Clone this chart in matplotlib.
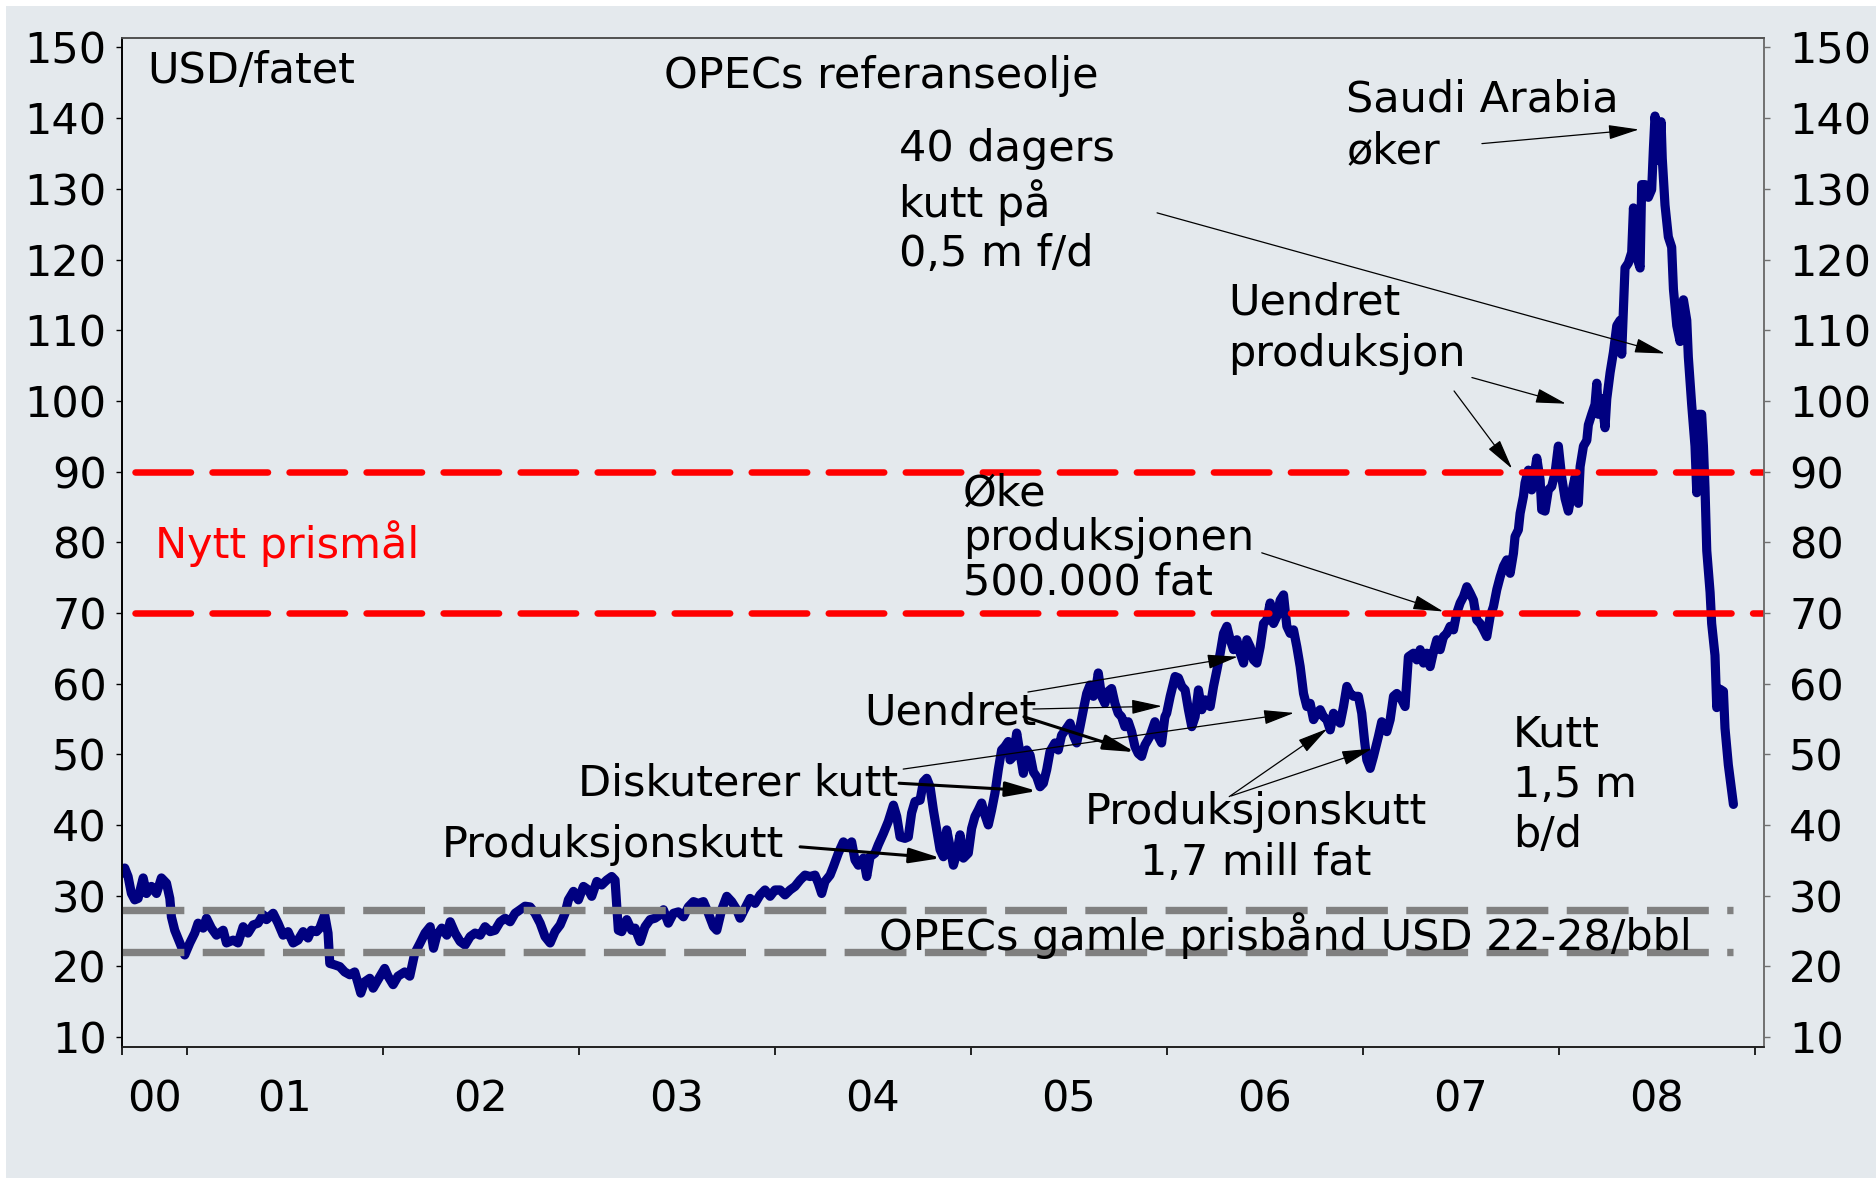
import matplotlib
matplotlib.use("Agg")
import matplotlib.pyplot as plt
from matplotlib.patches import Rectangle

# OPECs referanseolje (USD/fatet): decimal year, price
dates = [
    2000.672, 2000.684, 2000.701, 2000.718, 2000.735, 2000.752, 2000.778, 2000.795,
    2000.820, 2000.846, 2000.871, 2000.897, 2000.914, 2000.922, 2000.939, 2000.965,
    2000.990, 2001.016, 2001.041, 2001.058, 2001.084, 2001.101, 2001.126, 2001.152,
    2001.186, 2001.203, 2001.237, 2001.262, 2001.288, 2001.313, 2001.339, 2001.364,
    2001.390, 2001.407, 2001.441, 2001.466, 2001.492, 2001.517, 2001.543, 2001.568,
    2001.594, 2001.619, 2001.636, 2001.662, 2001.679, 2001.704, 2001.721, 2001.730,
    2001.755, 2001.781, 2001.806, 2001.832, 2001.857, 2001.874, 2001.888, 2001.908,
    2001.934, 2001.951, 2001.976, 2002.010, 2002.027, 2002.053, 2002.078, 2002.112,
    2002.138, 2002.163,
    2002.191, 2002.216, 2002.242, 2002.259, 2002.276, 2002.301, 2002.327, 2002.344,
    2002.369, 2002.395, 2002.420, 2002.446, 2002.471, 2002.497, 2002.522, 2002.548,
    2002.573, 2002.599, 2002.624, 2002.650, 2002.675, 2002.701, 2002.726, 2002.752,
    2002.777, 2002.803, 2002.828, 2002.854, 2002.879, 2002.905, 2002.930, 2002.947,
    2002.973, 2002.998, 2003.024, 2003.049, 2003.066, 2003.092, 2003.117, 2003.143,
    2003.168, 2003.185, 2003.194, 2003.202, 2003.219, 2003.245, 2003.270, 2003.287,
    2003.313, 2003.338, 2003.364, 2003.389, 2003.415, 2003.432, 2003.457, 2003.483,
    2003.508, 2003.534, 2003.559, 2003.585, 2003.610, 2003.636, 2003.661, 2003.687,
    2003.704, 2003.729, 2003.755, 2003.780, 2003.806, 2003.823, 2003.848, 2003.874,
    2003.899, 2003.925, 2003.950, 2003.976,
    2004.001, 2004.027, 2004.052, 2004.078, 2004.103, 2004.129, 2004.154, 2004.180,
    2004.205, 2004.222, 2004.239, 2004.256, 2004.282, 2004.299, 2004.324, 2004.350,
    2004.375, 2004.392, 2004.409, 2004.426, 2004.452, 2004.469, 2004.486, 2004.511,
    2004.528, 2004.554, 2004.579, 2004.605, 2004.622, 2004.639, 2004.664, 2004.681,
    2004.698, 2004.715, 2004.741, 2004.758, 2004.775, 2004.792, 2004.809, 2004.826,
    2004.843, 2004.860, 2004.877, 2004.894, 2004.911, 2004.928, 2004.945, 2004.962,
    2004.987, 2005.004, 2005.021, 2005.038, 2005.055, 2005.072, 2005.089, 2005.106,
    2005.123, 2005.140, 2005.157, 2005.174, 2005.191, 2005.200, 2005.217, 2005.234,
    2005.251, 2005.268, 2005.285, 2005.302, 2005.319, 2005.336, 2005.353, 2005.370,
    2005.387, 2005.404, 2005.429, 2005.446, 2005.463, 2005.489, 2005.506, 2005.523,
    2005.540, 2005.557, 2005.574, 2005.591, 2005.608, 2005.625, 2005.642, 2005.650,
    2005.667, 2005.684, 2005.701, 2005.718, 2005.735, 2005.752, 2005.769, 2005.786,
    2005.803, 2005.820, 2005.837, 2005.854, 2005.871, 2005.888, 2005.913, 2005.939,
    2005.956, 2005.973, 2005.990,
    2005.999, 2006.017, 2006.042, 2006.059, 2006.076, 2006.093, 2006.110, 2006.127,
    2006.144, 2006.161, 2006.178, 2006.195, 2006.221, 2006.238, 2006.255, 2006.272,
    2006.289, 2006.306, 2006.323, 2006.340, 2006.357, 2006.374, 2006.391, 2006.408,
    2006.425, 2006.442, 2006.459, 2006.476, 2006.493, 2006.510, 2006.527, 2006.544,
    2006.561, 2006.578, 2006.595, 2006.612, 2006.629, 2006.646, 2006.663, 2006.680,
    2006.697, 2006.714, 2006.731, 2006.748, 2006.765, 2006.782, 2006.799, 2006.816,
    2006.833, 2006.850, 2006.867, 2006.884, 2006.901, 2006.918, 2006.935, 2006.952,
    2006.977, 2006.994, 2007.008, 2007.020, 2007.037, 2007.054, 2007.079, 2007.096,
    2007.122, 2007.139, 2007.156, 2007.173, 2007.198, 2007.215, 2007.232, 2007.258,
    2007.275, 2007.292, 2007.309, 2007.326, 2007.343, 2007.360, 2007.377, 2007.394,
    2007.411, 2007.428, 2007.445, 2007.462, 2007.479, 2007.496, 2007.513, 2007.530,
    2007.547, 2007.564, 2007.581, 2007.598, 2007.615, 2007.632, 2007.649, 2007.666,
    2007.683, 2007.700, 2007.717, 2007.734, 2007.751, 2007.768, 2007.776, 2007.793,
    2007.802, 2007.819, 2007.827, 2007.844, 2007.861, 2007.870, 2007.887, 2007.904,
    2007.912, 2007.929, 2007.946, 2007.963, 2007.980,
    2007.997, 2008.014, 2008.031, 2008.048, 2008.065, 2008.082, 2008.099, 2008.108,
    2008.125, 2008.142, 2008.150, 2008.167, 2008.184, 2008.193, 2008.201, 2008.218,
    2008.235, 2008.244, 2008.261, 2008.278, 2008.295, 2008.312, 2008.320, 2008.329,
    2008.337, 2008.354, 2008.371, 2008.380, 2008.388, 2008.397, 2008.414, 2008.422,
    2008.439, 2008.456, 2008.473, 2008.482, 2008.490, 2008.499, 2008.507, 2008.521,
    2008.527, 2008.541, 2008.558, 2008.575, 2008.584, 2008.601, 2008.618, 2008.635,
    2008.652, 2008.660, 2008.677, 2008.694, 2008.703, 2008.711, 2008.728, 2008.737,
    2008.745, 2008.754, 2008.771, 2008.779, 2008.796, 2008.805, 2008.822, 2008.839,
    2008.847, 2008.864, 2008.890,
]
prices = [
    33.2, 33.9, 32.7, 30.3, 29.4, 29.6, 32.5, 30.3,
    31.3, 30.3, 32.5, 31.75, 29.6, 27.0, 25.1, 23.3,
    21.6, 23.3, 24.7, 26.1, 25.4, 26.8, 25.4, 24.4,
    25.1, 23.3, 23.7, 23.3, 25.6, 24.7, 25.85, 26.1,
    27.3, 26.6, 27.5, 26.1, 24.4, 24.9, 23.3, 23.7,
    24.9, 24.0, 25.1, 24.9, 25.4, 27.3, 24.7, 20.4,
    20.2, 19.95, 19.2, 18.8, 19.2, 17.6, 16.2, 17.8,
    18.3, 16.9, 18.1, 19.7, 18.6, 17.4, 18.6, 19.2,
    18.6, 21.8,
    23.3, 24.7, 25.6, 22.55, 24.4, 25.4, 24.4, 26.3,
    24.7, 23.5, 23.0, 24.2, 24.7, 24.4, 25.6, 24.9,
    25.1, 26.3, 26.8, 26.3, 27.5, 28.0, 28.5, 28.4,
    27.5, 26.1, 24.2, 23.3, 24.9, 25.85, 27.5, 29.4,
    30.6, 29.4, 31.3, 30.8, 29.9, 32.0, 31.5, 32.2,
    32.7, 32.2, 28.4, 25.1, 24.9, 26.6, 25.1, 25.4,
    23.5, 25.6, 26.6, 26.8, 27.3, 28.0, 26.1, 27.5,
    27.7, 27.0, 28.4, 29.15, 28.9, 29.15, 27.5, 25.6,
    25.1, 28.0, 29.9, 29.15, 28.0, 26.8, 28.2, 29.6,
    28.9, 30.1, 30.8, 29.9,
    30.8, 30.8, 30.1, 30.8, 31.3, 32.2, 32.9, 32.7,
    32.9, 31.75, 30.3, 32.0, 32.9, 34.1, 36.0, 37.6,
    36.9, 37.6, 35.05, 34.3, 35.3, 32.7, 35.5, 36.0,
    37.2, 38.8, 40.5, 42.8, 41.2, 38.3, 38.1, 38.3,
    41.7, 43.3, 43.5, 46.1, 46.6, 45.4, 42.1, 39.3,
    36.5, 35.5, 39.3, 36.9, 34.3, 36.0, 38.6, 35.3,
    36.0, 39.5, 41.2, 42.1, 43.1, 41.4, 40.0, 42.1,
    44.5, 47.8, 50.6, 51.1, 51.8, 49.2, 49.7, 53.0,
    50.1, 47.3, 50.6, 49.9, 47.5, 46.8, 45.4, 45.9,
    47.8, 50.4, 51.6, 50.6, 52.7, 53.7, 54.4, 52.7,
    51.6, 53.9, 56.3, 58.6, 59.8, 58.2, 60.05, 61.5,
    58.2, 57.2, 58.9, 59.3, 57.2, 55.8, 55.3, 53.9,
    54.6, 53.2, 51.1, 50.1, 49.7, 51.3, 52.5, 54.6,
    52.5, 51.6, 55.3,
    55.8, 58.2, 61.0, 60.8, 59.6, 59.1, 56.3, 53.9,
    55.3, 59.1, 56.3, 57.7, 56.75, 59.6, 61.9, 64.3,
    67.1, 68.1, 66.2, 64.8, 66.2, 64.3, 62.9, 66.2,
    65.2, 63.35, 62.9, 65.2, 68.5, 69.0, 71.4, 68.5,
    69.5, 71.8, 72.55, 68.1, 67.1, 67.6, 65.2, 62.4,
    58.6, 56.75, 57.2, 54.9, 55.8, 56.3, 55.3, 54.9,
    53.45, 55.8, 54.9, 54.4, 56.75, 59.6, 58.6, 58.2,
    58.2, 55.8, 52.0, 49.2, 48.0, 49.7, 52.5, 54.6,
    53.2, 54.9, 58.2, 58.6, 57.7, 56.75, 63.8, 64.3,
    63.35, 64.8, 62.9, 64.3, 62.4, 64.5, 66.2, 64.8,
    66.65, 67.1, 68.1, 67.6, 70.0, 71.4, 72.3, 73.7,
    72.8, 71.8, 69.0, 68.5, 67.6, 66.65, 69.5, 70.9,
    73.3, 75.1, 76.6, 77.5, 75.6, 78.45, 80.8, 81.75,
    84.1, 86.5, 88.4, 90.2, 87.4, 88.8, 91.9, 88.8,
    84.6, 84.4, 87.4, 87.9, 89.8,
    93.6, 89.2, 86.2, 84.4, 87.0, 89.2, 85.5, 90.7,
    93.6, 94.4, 96.6, 98.1, 99.5, 102.5, 98.1, 100.3,
    96.2, 100.3, 104.0, 106.9, 110.65, 111.4, 106.6, 112.9,
    118.8, 119.5, 121.0, 127.3, 123.2, 120.3, 118.8, 130.6,
    130.6, 128.8, 129.9, 135.8, 140.3, 138.0, 134.0, 139.5,
    134.3, 127.7, 123.2, 121.75, 115.8, 110.65, 108.4, 114.3,
    111.4, 106.2, 99.5, 93.6, 87.0, 98.1, 98.1, 93.6,
    87.7, 78.8, 72.9, 68.5, 64.0, 56.6, 59.2, 58.9,
    53.7, 48.5, 42.9,
]

old_band = [22, 28]          # OPECs gamle prisbånd
new_target = [70, 90]        # nytt prismål
y_ticks = list(range(10, 151, 10))
year_ticks = [2000.67, 2001, 2002, 2003, 2004, 2005, 2006, 2007, 2008, 2009]
year_label_pos = [2000.835, 2001.5, 2002.5, 2003.5, 2004.5, 2005.5, 2006.5, 2007.5, 2008.5]
year_labels = ['00', '01', '02', '03', '04', '05', '06', '07', '08']

bg = '#E4E9ED'
navy = '#000080'
plt.rcParams['font.family'] = ['DejaVu Sans']

fig = plt.figure(figsize=(18.76, 11.78), dpi=100, facecolor='white')
fig.patches.append(Rectangle((5.5 / 1876, 0), 1, 1 - 5.7 / 1178,
                             transform=fig.transFigure, facecolor=bg,
                             edgecolor='none', zorder=-10))
ax = fig.add_axes([0.06503, 0.11121, 0.94030 - 0.06503, 0.96749 - 0.11121])
ax.set_facecolor(bg)
xmin, xmax = 2000.67, 2009.046
ymin, ymax = 8.58, 151.3

ax.plot(dates, prices, color=navy, lw=6.6, solid_joinstyle='round',
        solid_capstyle='round', zorder=2)

for v in old_band:
    ax.plot([xmin, dates[-1]], [v, v], color='#808080', lw=5.3,
            dashes=(8.4, 2.5), dash_capstyle='butt', zorder=3)
for v in new_target:
    ax.plot([2000.737, xmax], [v, v], color='#FF0000', lw=4.7,
            dashes=(8.5, 3.3), dash_capstyle='round', zorder=3)

ax.set_xlim(xmin, xmax)
ax.set_ylim(ymin, ymax)
ax.set_yticks(y_ticks)
ax.set_xticks(year_ticks)
ax.set_xticklabels([''] * len(year_ticks))
ax.set_xticks(year_label_pos, minor=True)
ax.set_xticklabels(year_labels, minor=True)
ax.tick_params(axis='x', which='major', direction='out', length=6, width=1.2)
ax.tick_params(axis='x', which='minor', length=0, pad=23, labelsize=31)
ax.tick_params(axis='y', direction='out', length=4, width=1, pad=7, labelsize=31)

ax2 = ax.twinx()
ax2.set_ylim(ymin, ymax)
ax2.set_yticks(y_ticks)
ax2.tick_params(axis='y', direction='out', length=4, width=1, pad=14,
                labelsize=31, color='#707070')
for a in (ax, ax2):
    a.spines['top'].set_color('#505050')
    a.spines['left'].set_color('black')
    a.spines['bottom'].set_color('#202020')
    a.spines['right'].set_color('#707070')
    for s in a.spines.values():
        s.set_linewidth(1.2)

fs = 31
# multi-line texts are placed by the baseline of their last line
txt = dict(fontsize=fs, color='black', zorder=5, va='baseline')
ax.text(2000.798, 145.0, 'USD/fatet', **txt)
ax.text(2003.436, 144.3, 'OPECs referanseolje', **txt)
ax.text(2006.914, 133.7, 'Saudi Arabia\nøker', linespacing=1.28, **txt)
ax.text(2004.634, 119.1, '40 dagers\nkutt på\n0,5 m f/d', linespacing=1.22, **txt)
ax.text(2006.312, 104.9, 'Uendret\nproduksjon', linespacing=1.28, **txt)
ax.text(2000.839, 77.8, 'Nytt prismål', fontsize=fs, color='#FF0000', va='baseline', zorder=5)
ax.text(2004.960, 72.55, 'Øke\nproduksjonen\n500.000 fat', linespacing=1.08, **txt)
ax.text(2004.455, 54.15, 'Uendret', **txt)
ax.text(2002.996, 44.1, 'Diskuterer kutt', **txt)
ax.text(2002.301, 35.5, 'Produksjonskutt', **txt)
ax.text(2006.455, 32.9, 'Produksjonskutt\n1,7 mill fat', ha='center',
        multialignment='center', linespacing=1.28, **txt)
ax.text(2007.766, 36.9, 'Kutt\n1,5 m\nb/d', linespacing=1.25, **txt)
ax.text(2004.532, 22.3, 'OPECs gamle prisbånd USD 22-28/bbl', **txt)

# arrows: (tail, head, line width)
arrows = [
    ((2007.607, 136.4), (2008.408, 138.4), 0.9),
    ((2005.950, 126.6), (2008.541, 106.7), 0.9),
    ((2007.556, 103.3), (2008.036, 99.6), 0.9),
    ((2007.465, 101.4), (2007.761, 90.4), 0.9),
    ((2006.484, 78.5), (2007.410, 70.2), 0.9),
    ((2005.291, 58.8), (2006.362, 63.8), 0.9),
    ((2005.317, 56.4), (2005.975, 56.8), 0.9),
    ((2005.271, 55.3), (2005.838, 50.3), 2.2),
    ((2004.655, 47.9), (2006.649, 55.85), 0.9),
    ((2004.634, 45.9), (2005.338, 44.8), 2.2),
    ((2004.129, 36.9), (2004.848, 35.3), 2.2),
    ((2006.318, 44.0), (2006.818, 53.6), 0.9),
    ((2006.328, 44.1), (2007.047, 50.8), 0.9),
]
for tail, head, lw in arrows:
    ax.annotate('', xy=head, xytext=tail, zorder=5,
                arrowprops=dict(arrowstyle='-|>,head_length=1.9,head_width=0.45',
                                mutation_scale=10, lw=lw, color='black',
                                shrinkA=0, shrinkB=0))

fig.savefig('out.png', dpi=100, facecolor=fig.get_facecolor())
